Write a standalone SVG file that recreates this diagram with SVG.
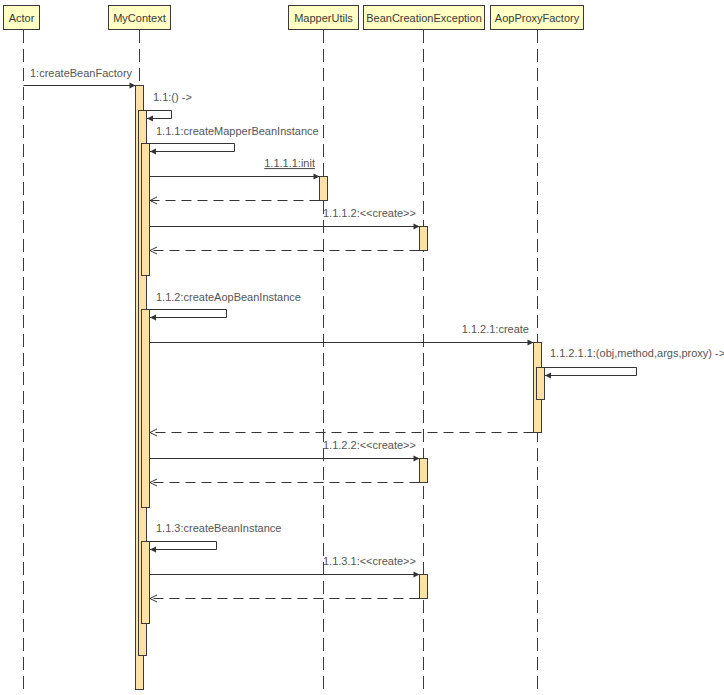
<svg xmlns="http://www.w3.org/2000/svg" width="724" height="695" viewBox="0 0 724 695">
<style>
text{font-family:"Liberation Sans",Arial,sans-serif;font-size:11px;fill:#555}
.hdr{fill:#ffffc4;stroke:#3a3a3a;stroke-width:1}
.htxt{fill:#3a3a3a;text-anchor:middle}
.life{stroke:#3a3a3a;stroke-width:1;stroke-dasharray:13,6;fill:none}
.act{fill:#ffe1a8;stroke:#3a3a3a;stroke-width:1}
.msg{stroke:#333;stroke-width:1;fill:none;marker-end:url(#fa)}
.ret{stroke:#333;stroke-width:1;fill:none;stroke-dasharray:10,6;marker-end:url(#oa)}
</style>
<defs>
<marker id="fa" markerUnits="userSpaceOnUse" markerWidth="8" markerHeight="8" refX="7" refY="4" orient="auto">
<path d="M1,1 L7,4 L1,7 z" fill="#333" stroke="none"/>
</marker>
<marker id="oa" markerUnits="userSpaceOnUse" markerWidth="9" markerHeight="9" refX="8" refY="4.5" orient="auto">
<path d="M1,1 L8,4.5 L1,8" fill="none" stroke="#333" stroke-width="1" stroke-dasharray="none"/>
</marker>
</defs>
<rect width="724" height="695" fill="#fff"/>

<g id="actor">
<rect class="hdr" x="3.5" y="5.5" width="36" height="24"/>
<text class="htxt" x="21.5" y="22">Actor</text>
<line class="life" x1="23.5" y1="30" x2="23.5" y2="695"/>
</g>

<g id="mycontext">
<rect class="hdr" x="108.5" y="5.5" width="62" height="24"/>
<text class="htxt" x="139.5" y="22">MyContext</text>
<line class="life" x1="139.5" y1="30" x2="139.5" y2="695"/>
<rect class="act" x="135.5" y="85.5" width="8" height="604"/>
<rect class="act" x="138.5" y="110.5" width="8" height="545"/>
<rect class="act" x="141.5" y="143.5" width="8" height="132"/>
<rect class="act" x="141.5" y="309.5" width="8" height="198"/>
<rect class="act" x="141.5" y="541.5" width="8" height="82"/>
</g>

<g id="mapperutils">
<rect class="hdr" x="288.5" y="5.5" width="70" height="24"/>
<text class="htxt" x="323.5" y="22">MapperUtils</text>
<line class="life" x1="323.5" y1="30" x2="323.5" y2="695"/>
<rect class="act" x="319.5" y="176.5" width="8" height="24"/>
</g>

<g id="beancreationexception">
<rect class="hdr" x="363.5" y="5.5" width="121" height="24"/>
<text class="htxt" x="424" y="22">BeanCreationException</text>
<line class="life" x1="423.5" y1="30" x2="423.5" y2="695"/>
<rect class="act" x="419.5" y="226.5" width="8" height="24"/>
<rect class="act" x="419.5" y="458.5" width="8" height="24"/>
<rect class="act" x="419.5" y="574.5" width="8" height="24"/>
</g>

<g id="aopproxyfactory">
<rect class="hdr" x="490.5" y="5.5" width="93" height="24"/>
<text class="htxt" x="537" y="22">AopProxyFactory</text>
<line class="life" x1="537.5" y1="30" x2="537.5" y2="695"/>
<rect class="act" x="533.5" y="342.5" width="8" height="90"/>
<rect class="act" x="536.5" y="367.5" width="8" height="32"/>
</g>

<g id="connectors">
<path class="msg" d="M23.5,85.5 H135.5"/>
<text x="30" y="77">1:createBeanFactory</text>

<path class="msg" d="M143.5,110.5 H171.5 V118.5 H147"/>
<text x="153" y="101">1.1:() -&gt;</text>

<path class="msg" d="M146.5,143.5 H234.5 V151.5 H150"/>
<text x="156" y="135">1.1.1:createMapperBeanInstance</text>

<path class="msg" d="M149.5,176.5 H319.5"/>
<text x="315" y="167" text-anchor="end" text-decoration="underline">1.1.1.1:init</text>
<path class="ret" d="M319.5,200.5 H150"/>

<path class="msg" d="M149.5,226.5 H419.5"/>
<text x="323" y="217">1.1.1.2:&lt;&lt;create&gt;&gt;</text>
<path class="ret" d="M419.5,250.5 H150"/>

<path class="msg" d="M146.5,309.5 H226.5 V317.5 H150"/>
<text x="156" y="301">1.1.2:createAopBeanInstance</text>

<path class="msg" d="M149.5,342.5 H533.5"/>
<text x="529" y="333" text-anchor="end">1.1.2.1:create</text>

<path class="msg" d="M541.5,367.5 H636.5 V375.5 H545"/>
<text x="550" y="357">1.1.2.1.1:(obj,method,args,proxy) -&gt;</text>
<path class="ret" d="M533.5,432.5 H150"/>

<path class="msg" d="M149.5,458.5 H419.5"/>
<text x="323" y="449">1.1.2.2:&lt;&lt;create&gt;&gt;</text>
<path class="ret" d="M419.5,482.5 H150"/>

<path class="msg" d="M146.5,541.5 H216.5 V549.5 H150"/>
<text x="156" y="532">1.1.3:createBeanInstance</text>

<path class="msg" d="M149.5,574.5 H419.5"/>
<text x="323" y="565">1.1.3.1:&lt;&lt;create&gt;&gt;</text>
<path class="ret" d="M419.5,598.5 H150"/>
</g>
</svg>
